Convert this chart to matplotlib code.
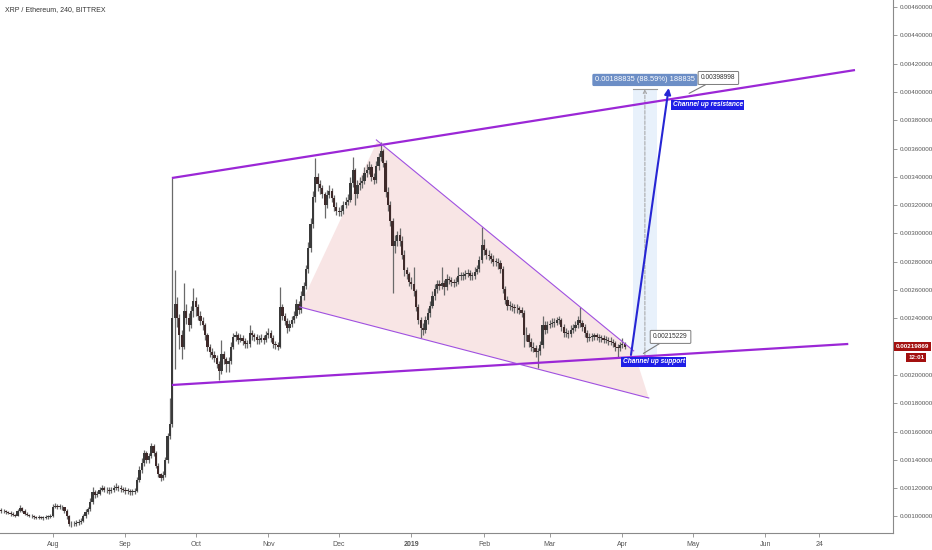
import numpy as np
import pandas as pd
import matplotlib
matplotlib.use('Agg')
import matplotlib.pyplot as plt
import matplotlib.dates as mdates
from matplotlib.patches import Polygon, Rectangle

FONT = ['Liberation Sans Narrow', 'Liberation Sans', 'DejaVu Sans']
plt.rcParams['font.family'] = FONT

# ---------------- data (prices in units of 1e-5 ETH) ----------------
start_date = '2018-07-10'
first_open_e5 = 104.5
close_e5 = [
    104, 103.5, 103, 102.5, 102, 101, 100.5, 104, 106, 104,
    102, 101, 100.5, 100, 99.5, 99, 99.5, 99, 99, 99.5,
    99.5, 100, 107, 107.5, 107, 107, 106.5, 104, 100, 95,
    94.5, 95, 95.5, 96, 97, 100, 103, 105, 110, 117,
    115, 116, 119, 120, 119, 118.5, 118, 119, 120, 121,
    120, 119.5, 119, 118, 118, 117.5, 117.5, 118, 126, 133,
    138, 145, 140, 143, 150, 145, 136, 130, 127, 129,
    140, 157, 165, 240, 250, 240, 228, 220, 245, 240,
    235, 245, 252, 248, 242, 238, 235, 228, 220, 216,
    214, 212, 208, 203, 215, 211, 208, 210, 220, 227,
    228, 225, 226, 224, 222, 222, 230, 228, 227, 225,
    225, 226, 225, 228, 230, 226, 222, 221, 220, 248,
    242, 238, 233, 236, 239, 242, 250, 246, 256, 263,
    275, 290, 307, 326, 340, 335, 332, 328, 320, 327,
    330, 325, 319, 316, 315, 316, 320, 322, 324, 336,
    345, 328, 334, 336, 337, 343, 345, 347, 340, 338,
    348, 354, 358, 350, 329, 320, 309, 291, 295, 299,
    295, 285, 274, 271, 266, 264, 259, 248, 239, 233,
    232, 239, 244, 249, 256, 261, 264, 263, 265, 262,
    268, 267, 266, 265, 266, 270, 270, 270, 271, 272,
    270, 270, 273, 275, 281, 292, 288, 285, 284, 282,
    280, 280, 279, 275, 261, 253, 249, 249, 248, 247,
    247, 246, 244, 228, 228, 223, 220, 219, 216, 217,
    221, 235, 232, 235, 236, 237, 237, 239, 239, 234,
    230, 230, 229, 232, 233, 235, 239, 237, 234, 230,
    226, 227, 227, 228, 227, 226, 226, 225, 225, 224,
    223, 222.5, 220, 219, 221, 222, 219.869,
]
high_e5 = [
    106, 105, 104.5, 104, 103.5, 103, 102, 105.5, 108, 106.5,
    105, 103, 102, 101.5, 101, 100.5, 101, 100.5, 100.5, 101,
    101, 102, 109, 109.5, 109, 108.5, 108, 107, 105, 101,
    96.5, 97, 97.5, 98, 99, 102, 105, 107, 113, 121,
    119, 118, 121, 122, 121.5, 121, 120.5, 121, 122, 123.5,
    122.5, 122, 121, 120.5, 120, 119.5, 119.5, 120, 128, 136,
    141, 147, 146, 145, 152, 151, 146, 138, 131, 132,
    142, 159, 184, 339, 274, 255, 243, 232, 265, 250,
    244, 249, 261.5, 255, 250, 245, 241, 237, 230, 222,
    219, 217, 214, 210, 224.7, 217, 213, 213, 223, 230,
    231, 230, 229, 228, 226, 225, 235, 232, 230, 229,
    228, 229, 228.5, 231, 233, 232, 228, 224, 223, 262,
    250, 244, 240, 239, 242, 245, 254, 252, 259, 266,
    278, 294, 311, 330, 353, 343, 338, 334, 329, 331,
    334, 332, 327, 322, 319, 320, 323, 326, 328, 340,
    354, 346, 338, 340, 341, 347, 349, 351, 349, 343,
    351, 357, 364.7, 360, 352, 333, 323, 311, 299, 302,
    304, 298, 288, 276, 273, 269, 276, 261, 250, 241,
    237, 242, 247, 252, 259, 264, 267, 267, 276, 267,
    271, 270, 269, 268, 269, 276, 273, 273, 274, 275,
    274, 273, 276, 278, 284, 304.6, 296, 290, 288, 286,
    285, 283, 283, 281, 277, 263, 256, 252, 251, 250,
    250, 249, 248, 246, 234, 230, 226, 223, 221, 219,
    224, 242, 238, 238, 239, 240, 240, 241, 242, 240,
    236, 233, 232, 235, 236, 238, 242, 248, 239, 236,
    232, 230, 230, 230, 230, 229, 228.5, 228, 227.5, 227,
    226.5, 225.5, 224, 222, 223.5, 226, 223,
]
low_e5 = [
    102.5, 102.5, 101.5, 101.5, 100.5, 100, 99.5, 100, 103, 103,
    101, 100, 99.5, 99, 98.5, 98, 98, 98, 97.5, 98,
    98.5, 99, 99.5, 106, 105.5, 105, 104.5, 102.5, 98.5, 93,
    92.5, 93, 93.5, 94, 95, 96, 99, 102, 104, 109,
    113, 113.5, 115, 118, 117, 116.5, 116, 116.5, 117.5, 119,
    118, 117.5, 117, 116, 116, 115.5, 115.5, 116, 117, 124,
    131, 136, 138, 138, 141, 143, 134, 128, 125, 126,
    128, 138, 155, 163, 204, 234, 218, 211, 218, 236,
    231, 233, 241, 242, 239, 235, 232, 225, 217, 213,
    211, 209, 205, 196.5, 201, 208, 202, 202, 208, 218,
    224, 222, 223, 221, 219, 219, 220, 225, 224, 222,
    222, 223, 222, 223, 226, 223, 219, 218.5, 217.7, 219,
    239, 235, 230, 231, 234, 237, 240, 243, 244, 253,
    261, 272, 287, 304, 322, 330, 328, 325, 311, 318,
    325, 322, 316, 313, 312, 312, 314, 318, 320, 322,
    333, 320, 325, 331, 332, 335, 340, 342, 337, 335,
    336, 345, 351, 347, 326, 316, 305, 258, 286, 291,
    291, 282, 270, 268, 263, 261, 256, 245, 236, 226,
    228, 230, 236, 241, 247, 253, 258, 260, 261, 256.5,
    260, 264, 263, 262, 263, 264, 267, 267, 268, 269,
    267, 267, 268, 271, 273, 279, 285, 282, 281, 279,
    277, 277, 275, 272, 258, 250, 246, 246, 245, 244,
    244, 243, 241, 220, 224, 220, 217, 216, 213, 205,
    214, 219, 229, 230, 233, 234, 234, 235, 236, 231,
    227, 227, 226, 227, 230, 231, 233, 234, 231, 227,
    223, 224, 224, 225, 224.5, 223.5, 223, 222.5, 222.5, 221.5,
    221, 220, 217, 212.7, 217, 219, 218.5,
]

# ---------------- drawings (anchor dates / prices) ----------------
channel_top_dates = ['2018-09-20 20:00', '2019-07-09 07:00']
channel_top_prices = [0.003392, 0.004155]
channel_bot_dates = ['2018-09-20 20:00', '2019-07-06 10:00']
channel_bot_prices = [0.001929, 0.002219]
wedge_top_dates = ['2018-12-17 02:00', '2019-04-05 21:00']
wedge_top_prices = [0.003661, 0.002170]
wedge_bot_dates = ['2018-11-14 07:00', '2019-04-12 07:00']
wedge_bot_prices = [0.002481, 0.001837]
wedge_fill_dates = ['2018-11-14 07:00', '2018-12-17 12:00', '2019-04-05 21:00', '2019-04-12 07:00']
wedge_fill_prices = [0.002481, 0.003654, 0.002170, 0.001837]
arrow_dates = ['2019-04-04 17:00', '2019-04-20 19:00']
arrow_prices = [0.002141, 0.004028]
measure_dates = ['2019-04-05 14:00', '2019-04-15 17:00']
measure_prices = [0.00213157, 0.00401992]
measure_text = '0.00188835 (88.59%) 188835'
measure_label_price = 0.004085
callout_texts = ['0.00398998', '0.00215229']
callout_anchor_dates = ['2019-04-29 12:00', '2019-04-10 00:00']
callout_anchor_prices = [0.00398998, 0.00215229]
callout_box_dates = ['2019-05-12 00:00', '2019-04-21 14:00']
callout_box_prices = [0.004099, 0.002269]
label_texts = ['Channel up resistance', 'Channel up support']
label_dates = ['2019-04-22 12:00', '2019-04-01 05:00']
label_prices = [0.003908, 0.002092]
last_price = 0.00219869
last_price_text = '0.00219869'
countdown_text = '12:01'

y_ticks = [0.0010, 0.0012, 0.0014, 0.0016, 0.0018, 0.0020,
           0.0024, 0.0026, 0.0028, 0.0030, 0.0032, 0.0034, 0.0036, 0.0038,
           0.0040, 0.0042, 0.0044, 0.0046]
x_tick_dates = ['2018-08-01', '2018-09-01', '2018-10-01', '2018-11-01', '2018-12-01',
                '2019-01-01', '2019-02-01', '2019-03-01', '2019-04-01', '2019-05-01',
                '2019-06-01', '2019-06-24']
x_tick_labels = ['Aug', 'Sep', 'Oct', 'Nov', 'Dec', '2019', 'Feb', 'Mar', 'Apr', 'May', 'Jun', '24']
x_range = ['2018-07-09 12:00', '2019-07-25 12:00']
y_range = [0.000883, 0.004650]

# ---------------- figure ----------------
def dn(lst):
    return mdates.date2num(pd.to_datetime(lst))

fig = plt.figure(figsize=(9.32, 5.5), dpi=100)
ax = fig.add_axes([0, 17 / 550, 893 / 932, 533 / 550])
ax.set_facecolor('white')

closes = np.array(close_e5) * 1e-5
highs = np.array(high_e5) * 1e-5
lows = np.array(low_e5) * 1e-5
opens = np.concatenate([[first_open_e5 * 1e-5], closes[:-1]])
dates = dn(pd.date_range(start_date, periods=len(closes), freq='D'))

# wedge fill
fx = dn(wedge_fill_dates)
poly = Polygon(np.column_stack([fx, wedge_fill_prices]), closed=True,
               fc='#f7e1e1', ec='none', alpha=0.85, zorder=1)
ax.add_patch(poly)

# measurement rectangle
mx = dn(measure_dates)
ax.add_patch(Rectangle((mx[0], measure_prices[0]), mx[1] - mx[0],
                       measure_prices[1] - measure_prices[0],
                       fc='#e6f0fb', ec='none', alpha=0.9, zorder=1))
ax.plot(mx, [measure_prices[1]] * 2, color='#9a9a9a', lw=0.8, zorder=3)
mid = (mx[0] + mx[1]) / 2
ax.annotate('', xy=(mid, measure_prices[1]), xytext=(mid, measure_prices[0]),
            arrowprops=dict(arrowstyle='->', ls='--', color='#a0a0a0', lw=0.7,
                            shrinkA=0, shrinkB=0, mutation_scale=6), zorder=3)

# candles
up = closes >= opens
ax.vlines(dates, lows, highs, color='#6a6a6a', lw=0.9, zorder=2)
body_lo = np.minimum(opens, closes)
body_h = np.maximum(np.abs(closes - opens), 0.000005)
ax.bar(dates[up], body_h[up], bottom=body_lo[up], width=0.95, color='#3a3a3a', lw=0, zorder=3)
ax.bar(dates[~up], body_h[~up], bottom=body_lo[~up], width=0.95, color='#3f2a2a', lw=0, zorder=3)

# channel lines
ax.plot(dn(channel_top_dates), channel_top_prices, color='#9b27d6', lw=1.6, zorder=4,
        solid_capstyle='butt')
ax.plot(dn(channel_bot_dates), channel_bot_prices, color='#9b27d6', lw=1.6, zorder=4,
        solid_capstyle='butt')
# wedge lines
ax.plot(dn(wedge_top_dates), wedge_top_prices, color='#a050e0', lw=0.8, zorder=4)
ax.plot(dn(wedge_bot_dates), wedge_bot_prices, color='#a050e0', lw=0.8, zorder=4)

# blue projection arrow
arx = dn(arrow_dates)
ax.annotate('', xy=(arx[1], arrow_prices[1]), xytext=(arx[0], arrow_prices[0]),
            arrowprops=dict(arrowstyle='-|>', color='#2626d4', lw=1.5,
                            shrinkA=0, shrinkB=0, mutation_scale=9), zorder=5)

# measurement label
ax.text(mid, measure_label_price, measure_text, ha='center', va='center', color='white',
        fontsize=5.4, zorder=6,
        bbox=dict(boxstyle='round,pad=0.35,rounding_size=0.2', fc='#6c8ec6', ec='none'))

# callouts
for t, ad, ap, bd, bp in zip(callout_texts, callout_anchor_dates, callout_anchor_prices,
                             callout_box_dates, callout_box_prices):
    ax.annotate(t, xy=(dn([ad])[0], ap), xytext=(dn([bd])[0], bp),
                ha='center', va='center', fontsize=4.8, color='#333333', zorder=6,
                bbox=dict(boxstyle='round,pad=0.45,rounding_size=0.15', fc='white',
                          ec='#7a7a7a', lw=0.7),
                arrowprops=dict(arrowstyle='-', color='#7a7a7a', lw=0.8,
                                shrinkA=0, shrinkB=0))

# blue labels
for t, d, p in zip(label_texts, label_dates, label_prices):
    ax.text(dn([d])[0], p, t, ha='left', va='center', color='white', fontsize=4.8,
            fontweight='bold', fontstyle='italic', zorder=6,
            bbox=dict(boxstyle='square,pad=0.2', fc='#1e1ee6', ec='none'))

# axes styling
ax.set_xlim(dn(x_range))
ax.set_ylim(y_range)
ax.set_xticks(dn(x_tick_dates))
ax.set_xticklabels(x_tick_labels)
ax.set_yticks(y_ticks)
ax.set_yticklabels(['%.8f' % t for t in y_ticks])
ax.yaxis.tick_right()
for s in ['top', 'left']:
    ax.spines[s].set_visible(False)
ax.spines['right'].set_color('#8a8a8a')
ax.spines['bottom'].set_color('#8a8a8a')
ax.spines['right'].set_linewidth(0.8)
ax.spines['bottom'].set_linewidth(0.8)
ax.tick_params(axis='y', direction='out', length=3, width=0.6, colors='#8a8a8a',
               labelcolor='#555555', labelsize=4.5, pad=2)
ax.tick_params(axis='x', direction='out', length=3, width=0.6, colors='#8a8a8a',
               labelcolor='#555555', labelsize=5, pad=3)
for lbl in ax.get_xticklabels():
    if lbl.get_text() == '2019':
        lbl.set_fontweight('bold')

# last price labels
ax.annotate(last_price_text, xy=(1.0, last_price), xycoords=('axes fraction', 'data'),
            xytext=(2, 0), textcoords='offset points', ha='left', va='center',
            color='white', fontsize=4.5, fontweight='bold', zorder=7, annotation_clip=False,
            bbox=dict(boxstyle='square,pad=0.3', fc='#a3100f', ec='none'))
ax.annotate(countdown_text, xy=(1.0, last_price), xycoords=('axes fraction', 'data'),
            xytext=(11, -7.5), textcoords='offset points', ha='left', va='center',
            color='white', fontsize=4.5, fontweight='bold', zorder=7, annotation_clip=False,
            bbox=dict(boxstyle='square,pad=0.3', fc='#a3100f', ec='none'))

fig.text(5 / 932, 1 - 10 / 550, 'XRP / Ethereum, 240, BITTREX', fontsize=5,
         color='#333333', ha='left', va='center')

fig.savefig('out.png', dpi=100, facecolor='white')
